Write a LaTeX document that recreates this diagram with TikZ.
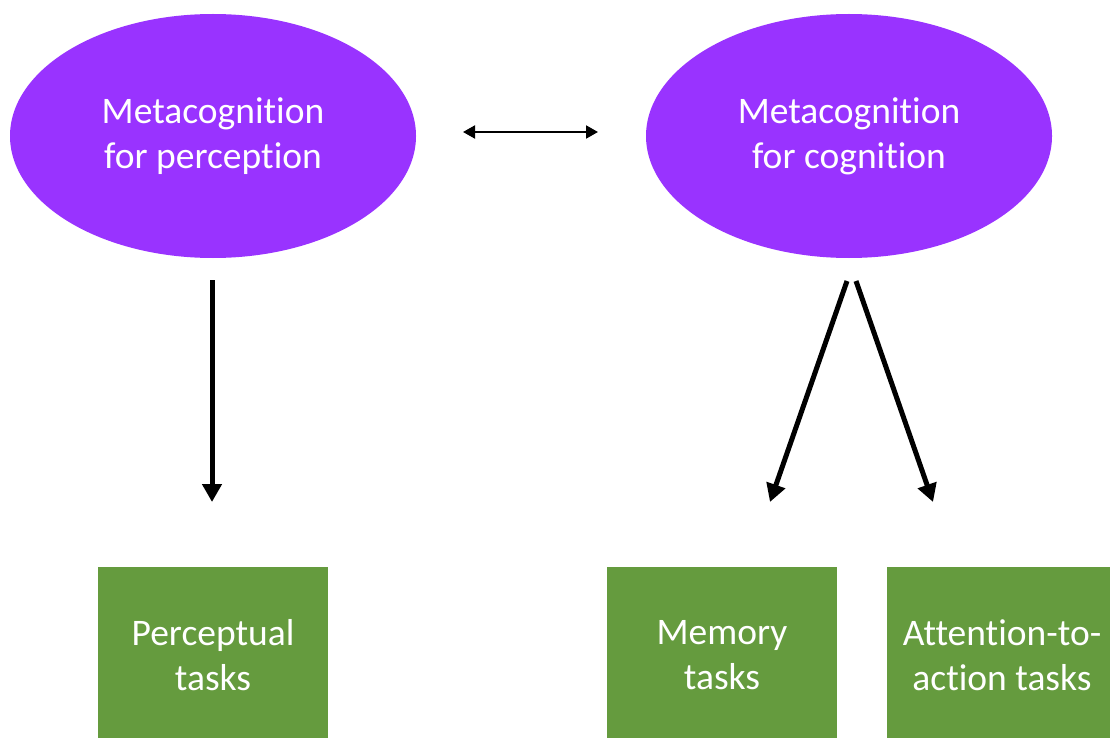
\documentclass[tikz,border=0pt]{standalone}
\usepackage{fontspec}
\setmainfont[RawFeature={-liga;-clig;-dlig;-calt}]{Carlito}
\usetikzlibrary{shapes.geometric,arrows.meta}
\definecolor{metapurple}{RGB}{153,51,255}
\definecolor{taskgreen}{RGB}{101,155,62}
\tikzset{
  metanode/.style={ellipse, fill=metapurple, draw=none, minimum width=406pt,
    minimum height=244pt, text=white, align=center, inner sep=0pt,
    font=\fontsize{37.5}{45}\selectfont},
  tasknode/.style={rectangle, fill=taskgreen, draw=none, minimum width=230pt,
    minimum height=176pt, text=white, align=center, inner sep=0pt,
    font=\fontsize{37.5}{45}\selectfont},
  bigarrow/.style={line width=5pt, -{Triangle[length=18pt,width=19pt]}},
  linkarrow/.style={line width=2pt, {Triangle[length=12pt,width=13pt]}-{Triangle[length=12pt,width=13pt]}}
}
\begin{document}
\begin{tikzpicture}[x=1pt,y=-1pt]
  \clip (0,0) rectangle (1110,738);
  \useasboundingbox (0,0) rectangle (1110,738);
  \fill[white] (0,0) rectangle (1110,738);

  % the two metacognition domains
  \node[metanode] (perc) at (213,136) {Metacognition\\for perception};
  \node[metanode] (cog) at (849,136) {Metacognition\\for cognition};

  % task boxes
  \node[tasknode] (ptask) at (213,655) {Perceptual\\tasks};
  \node[tasknode] (mtask) at (722,655) {Memory\\tasks};
  \node[tasknode] (atask) at (1002,655) {Attention-to-\\action tasks};

  % connector end points
  \coordinate (linkL) at (463,132);
  \coordinate (linkR) at (598,132);
  \coordinate (pfrom) at (212,280);
  \coordinate (pto) at (212,502);
  \coordinate (mfrom) at (847,281);
  \coordinate (mto) at (770,502);
  \coordinate (afrom) at (856,281);
  \coordinate (ato) at (933,502);

  \draw[linkarrow] (linkL) -- (linkR);
  \draw[bigarrow] (pfrom) -- (pto);
  \draw[bigarrow] (mfrom) -- (mto);
  \draw[bigarrow] (afrom) -- (ato);
\end{tikzpicture}
\end{document}
